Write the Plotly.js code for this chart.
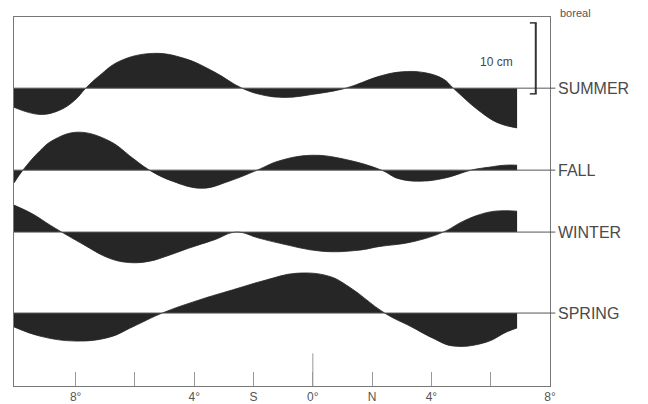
<!DOCTYPE html>
<html>
<head>
<meta charset="utf-8">
<script src="https://cdn.plot.ly/plotly-3.0.1.min.js"></script>
<style>html,body{margin:0;padding:0;background:#fff;}#chart{width:648px;height:404px;}</style>
</head>
<body>
<div id="chart"></div>
<script>
// Latitude (negative = south) and sea-level anomaly (cm) per season
const seasons = ['SUMMER', 'FALL', 'WINTER', 'SPRING'];

const latSummer = [-10.08, -9.21, -8.54, -8.03, -7.66, -7.19, -6.52, -5.41, -4.34, -3.33, -2.39, -1.65, -0.91, 0.03, 1.11, 2.26, 3.0, 3.75, 4.4, 4.74, 5.58, 6.25, 6.89];
const summer    = [-2.7, -3.7, -3.1, -1.7, 0, 1.8, 3.8, 4.9, 4.2, 2.3, 0, -1.0, -1.3, -0.85, 0, 1.7, 2.3, 2.2, 1.3, 0, -3.1, -4.9, -5.6];

const latFall = [-10.08, -9.78, -9.21, -8.77, -7.93, -6.86, -6.08, -5.51, -4.74, -3.73, -2.82, -1.88, -1.14, -0.03, 1.11, 2.32, 2.89, 3.66, 4.47, 5.34, 5.92, 6.49, 6.89];
const fall    = [-1.8, 0, 2.7, 4.2, 5.35, 4.1, 1.7, 0, -1.55, -2.55, -1.55, 0, 1.3, 2.1, 1.5, 0, -1.2, -1.55, -1.1, 0, 0.4, 0.7, 0.7];

const latWinter = [-10.08, -9.45, -8.87, -8.47, -7.76, -6.86, -6.18, -5.5, -4.94, -4.17, -3.33, -2.59, -1.82, -1.14, 0.30, 1.55, 2.22, 3.33, 4.40, 5.01, 5.58, 6.15, 6.89];
const winter    = [3.8, 2.55, 1.0, 0, -1.7, -3.7, -4.3, -4.1, -3.4, -2.25, -1.1, 0, -0.85, -1.55, -2.7, -2.55, -2.05, -1.4, 0, 1.4, 2.4, 2.95, 2.95];

const latSpring = [-10.08, -9.21, -7.97, -6.86, -6.08, -5.08, -3.83, -2.72, -1.58, -0.57, 0.54, 1.24, 2.42, 3.33, 4.03, 4.74, 5.85, 6.52, 6.89];
const spring    = [-1.95, -3.25, -3.95, -3.4, -1.95, 0, 1.85, 3.25, 4.65, 5.6, 5.2, 3.65, 0, -1.95, -3.5, -4.65, -4.1, -2.7, -2.1];

const tickVals = [-8, -6, -4, -2, 0, 2, 4, 6, 8];
const tickText = ['8°', '', '4°', 'S', '0°', 'N', '4°', '', '8°'];

// layout helpers (vertical offsets of each season's zero line, in cm)
const offsets = [41.97, 30.42, 21.69, 10.28];
const lats = [latSummer, latFall, latWinter, latSpring];
const vals = [summer, fall, winter, spring];

const FILL = '#262626';
const traces = [];
const shapes = [];
const annotations = [];
const labelFont = {family: 'Liberation Sans, Arial, sans-serif', size: 16, color: '#4a4a4a'};

seasons.forEach((name, i) => {
  const off = offsets[i];
  const xs = lats[i];
  traces.push({
    x: [xs[0], xs[xs.length - 1]], y: [off, off],
    mode: 'lines', line: {width: 0, color: 'rgba(0,0,0,0)'},
    hoverinfo: 'skip', showlegend: false
  });
  traces.push({
    x: xs, y: vals[i].map(v => v + off),
    mode: 'lines', line: {color: FILL, width: 0.8, shape: 'spline', smoothing: 1.15},
    fill: 'tonexty', fillcolor: FILL, showlegend: false, name: name
  });
  shapes.push({type: 'line', xref: 'paper', yref: 'y', x0: 0, x1: 1.01, y0: off, y1: off,
               line: {color: '#555', width: 1}});
  annotations.push({xref: 'paper', yref: 'y', x: 1, y: off, xshift: 6, xanchor: 'left', yanchor: 'middle',
                    text: name, showarrow: false, font: labelFont});
});

// 10 cm scale bar
const barTop = offsets[0] + 9.2, barBot = offsets[0] - 0.8;
shapes.push({type: 'line', xref: 'x', yref: 'y', x0: 7.52, x1: 7.52, y0: barBot, y1: barTop, line: {color: '#333', width: 2}});
shapes.push({type: 'line', xref: 'x', yref: 'y', x0: 7.32, x1: 7.55, y0: barTop, y1: barTop, line: {color: '#333', width: 1.5}});
shapes.push({type: 'line', xref: 'x', yref: 'y', x0: 7.32, x1: 7.55, y0: barBot, y1: barBot, line: {color: '#333', width: 1.5}});
annotations.push({xref: 'x', yref: 'y', x: 6.2, y: 45.6, text: '10 cm', showarrow: false,
                  font: {family: 'Liberation Sans, Arial, sans-serif', size: 12, color: '#444'}});
annotations.push({xref: 'paper', yref: 'paper', x: 1, y: 1.011, xshift: 8, xanchor: 'left', yanchor: 'middle',
                  text: 'boreal', showarrow: false, font: {family: 'Liberation Sans, Arial, sans-serif', size: 11, color: '#555'}});
// taller equator tick
shapes.push({type: 'line', xref: 'x', yref: 'y', x0: 0, x1: 0, y0: 0, y1: 4.6, line: {color: '#999', width: 1}});

const layout = {
  width: 648, height: 404,
  margin: {l: 14, r: 98, t: 17, b: 18},
  paper_bgcolor: '#fff', plot_bgcolor: '#fff',
  showlegend: false,
  xaxis: {range: [-10.08, 8], tickmode: 'array', tickvals: tickVals, ticktext: tickText,
          ticks: 'inside', ticklen: 14, tickcolor: '#999', tickwidth: 1,
          showgrid: false, zeroline: false, showline: true, mirror: true, linecolor: '#777', linewidth: 1,
          tickfont: {family: 'Liberation Sans, Arial, sans-serif', size: 12, color: '#555'}},
  yaxis: {range: [0, 52], showticklabels: false, ticks: '', showgrid: false, zeroline: false,
          showline: true, mirror: true, linecolor: '#777', linewidth: 1},
  shapes: shapes, annotations: annotations
};

Plotly.newPlot('chart', traces, layout, {staticPlot: true, displayModeBar: false});
</script>
</body>
</html>
